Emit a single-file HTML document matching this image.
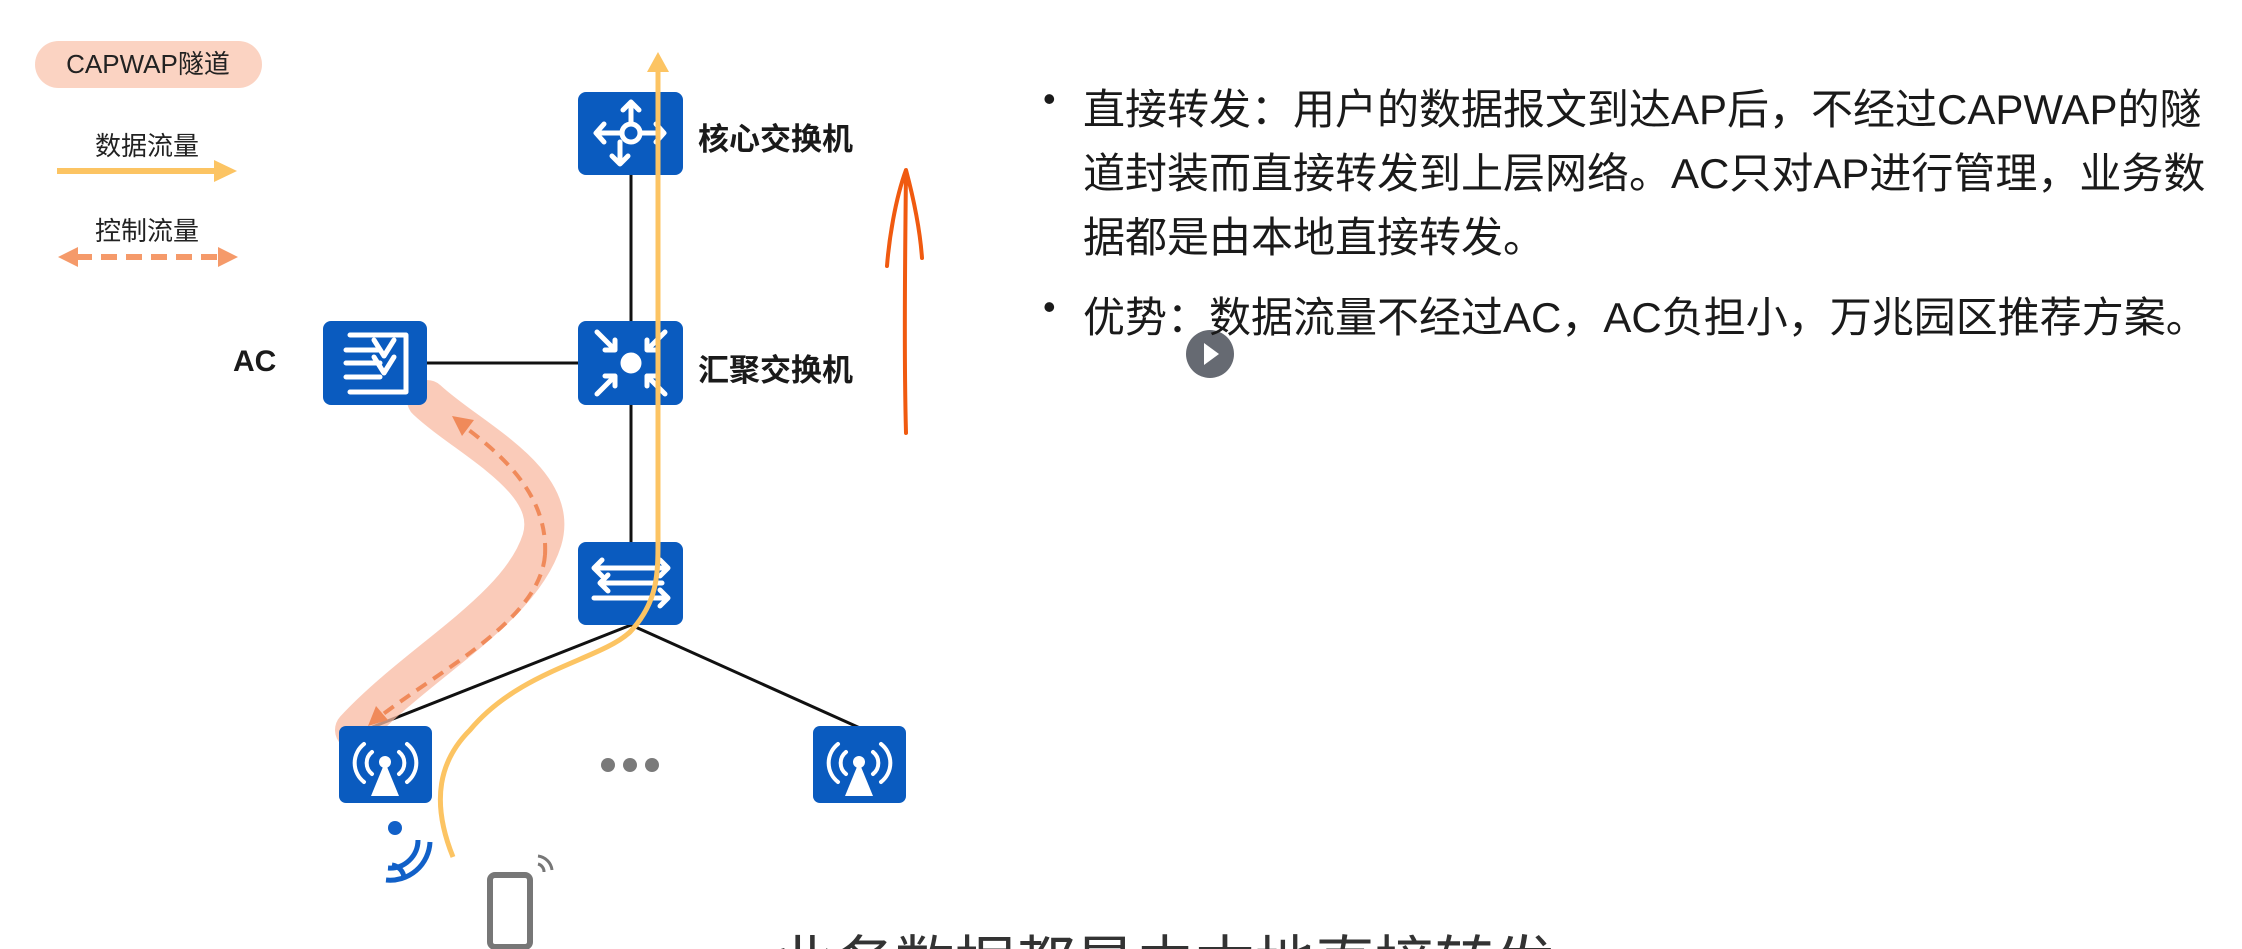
<!DOCTYPE html>
<html><head><meta charset="utf-8"><style>
html,body{margin:0;padding:0;background:#fff;width:2242px;height:949px;overflow:hidden;}
body{position:relative;font-family:"Liberation Sans","Noto Sans CJK SC",sans-serif;}
.t{position:absolute;white-space:nowrap;color:#1a1a1a;}
</style></head><body>
<svg width="2242" height="949" style="position:absolute;left:0;top:0" xmlns="http://www.w3.org/2000/svg">
<rect x="35" y="41" width="227" height="47" rx="23.5" fill="#fbd3c2"/>
<text x="148" y="73" font-size="26" text-anchor="middle" fill="#222" font-family="Liberation Sans,Noto Sans CJK SC,sans-serif">CAPWAP隧道</text>
<text x="147" y="155" font-size="26" text-anchor="middle" fill="#222" font-family="Liberation Sans,Noto Sans CJK SC,sans-serif">数据流量</text>
<line x1="57" y1="171" x2="218" y2="171" stroke="#fcc463" stroke-width="6"/>
<path d="M214,160 L237,171 L214,182 z" fill="#fcc463"/>
<text x="147" y="240" font-size="26" text-anchor="middle" fill="#222" font-family="Liberation Sans,Noto Sans CJK SC,sans-serif">控制流量</text>
<line x1="76" y1="257" x2="220" y2="257" stroke="#f59a6a" stroke-width="6" stroke-dasharray="16,9"/>
<path d="M58,257 L78,247 L78,267 z" fill="#f59a6a"/>
<path d="M238,257 L218,247 L218,267 z" fill="#f59a6a"/>
<line x1="631" y1="175" x2="631" y2="542" stroke="#111" stroke-width="3"/>
<line x1="427" y1="363" x2="579" y2="363" stroke="#111" stroke-width="3"/>
<line x1="631" y1="625" x2="370" y2="728" stroke="#111" stroke-width="3"/>
<line x1="631" y1="625" x2="860" y2="728" stroke="#111" stroke-width="3"/>
<path d="M427,400 C470,440 560,480 542,540 C520,610 420,660 355,730" fill="none" stroke="#f8b9a2" stroke-opacity="0.75" stroke-width="40" stroke-linecap="round"/>
<path d="M545,555 C548,500 510,460 462,425" fill="none" stroke="#f08a5a" stroke-width="4" stroke-dasharray="12,8"/>
<path d="M545,555 C540,620 440,670 378,718" fill="none" stroke="#f08a5a" stroke-width="4" stroke-dasharray="12,8"/>
<path d="M452,416 L474,420 L462,436 z" fill="#f08a5a"/>
<path d="M368,726 L376,706 L388,720 z" fill="#f08a5a"/>
<g fill="#0a5bbf">
<rect x="578" y="92" width="105" height="83" rx="8"/>
<rect x="578" y="321" width="105" height="84" rx="8"/>
<rect x="323" y="321" width="104" height="84" rx="8"/>
<rect x="578" y="542" width="105" height="83" rx="8"/>
<rect x="339" y="726" width="93" height="77" rx="7"/>
<rect x="813" y="726" width="93" height="77" rx="7"/>
</g>
<g stroke="#fff" stroke-width="5" fill="none" stroke-linecap="round" stroke-linejoin="round">
<circle cx="631" cy="133" r="9"/>
<path d="M622,133 H596 M604,124 L596,133 L604,142"/>
<path d="M640,133 H664 M656,124 L664,133 L656,142"/>
<path d="M631,124 V102 M623,110 L631,102 L639,110"/>
<path d="M620,142 V164 M612,156 L620,164 L628,156"/>
<circle cx="631" cy="363" r="8" fill="#fff"/>
<path d="M597,332 L615,350 M615,340 V350 H605"/>
<path d="M665,332 L647,350 M647,340 V350 H657"/>
<path d="M597,394 L615,376 M615,386 V376 H605"/>
<path d="M665,394 L647,376 M647,386 V376 H657"/>
<path d="M350,335 H406 V392 H350 M346,350 H380 M346,363 H380 M346,377 H380 M374,340 L384,356 L394,340 M374,357 L384,373 L394,357"/>
<path d="M594,568 H666 M660,560 L668,568 L660,576 M594,568 L602,560 M594,568 L602,576"/>
<path d="M594,598 H666 M660,590 L668,598 L660,606"/>
<path d="M600,583 L608,575 M600,583 L608,591 M600,583 H662"/>
</g>
<g stroke="#fff" stroke-width="4" fill="none" stroke-linecap="round">
<path d="M372,752 A14,14 0 0 0 372,774 M364,744 A24,24 0 0 0 364,782 M399,752 A14,14 0 0 1 399,774 M407,744 A24,24 0 0 1 407,782"/>
<path d="M846,752 A14,14 0 0 0 846,774 M838,744 A24,24 0 0 0 838,782 M873,752 A14,14 0 0 1 873,774 M881,744 A24,24 0 0 1 881,782"/>
</g>
<g fill="#fff"><circle cx="385" cy="762" r="6"/><path d="M385,762 L371,796 H399 z"/><circle cx="859" cy="762" r="6"/><path d="M859,762 L845,796 H873 z"/></g>
<g fill="#7a7a7a"><circle cx="608" cy="765" r="7"/><circle cx="630" cy="765" r="7"/><circle cx="652" cy="765" r="7"/></g>
<g fill="none" stroke="#1160c8" stroke-width="5"><path d="M392,865 A14,14 0 0 1 404,878"/><path d="M388,868 A28,28 0 0 0 418,840"/><path d="M386,880 A40,40 0 0 0 430,842"/></g>
<circle cx="395" cy="828" r="7" fill="#1160c8"/>
<rect x="490" y="875" width="40" height="72" rx="5" fill="none" stroke="#777" stroke-width="6"/>
<path d="M538,864 A8,8 0 0 1 544,872 M538,856 A16,16 0 0 1 552,870" fill="none" stroke="#777" stroke-width="3"/>
<path d="M453,857 C430,800 440,760 470,730 C520,670 600,660 630,632 C660,600 658,570 658,530 L658,70" fill="none" stroke="#fcc463" stroke-width="5"/>
<path d="M647,72 L658,52 L669,72 z" fill="#fcc463"/>
<path d="M906,433 C904,360 905,260 906,170 C895,200 889,240 887,266 M906,170 C914,200 920,230 922,258" fill="none" stroke="#f05a10" stroke-width="4" stroke-linecap="round"/>
<circle cx="1210" cy="354" r="24" fill="#666a72"/>
<path d="M1204,343 L1219,354 L1204,365 z" fill="#fff"/>
</svg>
<div class="t" style="left:233px;top:345px;font-size:30px;font-weight:bold;">AC</div>
<div class="t" style="left:698px;top:114px;font-size:31px;font-weight:bold;">核心交换机</div>
<div class="t" style="left:698px;top:345px;font-size:31px;font-weight:bold;">汇聚交换机</div>
<div class="t" style="left:1043px;top:78px;font-size:36px;">•</div>
<div class="t" style="left:1083px;top:76px;font-size:42px;">直接转发：用户的数据报文到达AP后，不经过CAPWAP的隧</div>
<div class="t" style="left:1083px;top:140px;font-size:42px;">道封装而直接转发到上层网络。AC只对AP进行管理，业务数</div>
<div class="t" style="left:1083px;top:204px;font-size:42px;">据都是由本地直接转发。</div>
<div class="t" style="left:1043px;top:286px;font-size:36px;">•</div>
<div class="t" style="left:1083px;top:284px;font-size:42px;">优势：数据流量不经过AC，AC负担小，万兆园区推荐方案。</div>
<div style="position:absolute;left:775px;top:930px;width:900px;height:19px;overflow:hidden;">
<div class="t" style="left:0;top:0;font-size:60px;line-height:70px;color:#333;">业务数据都是由本地直接转发</div>
</div>
</body></html>
